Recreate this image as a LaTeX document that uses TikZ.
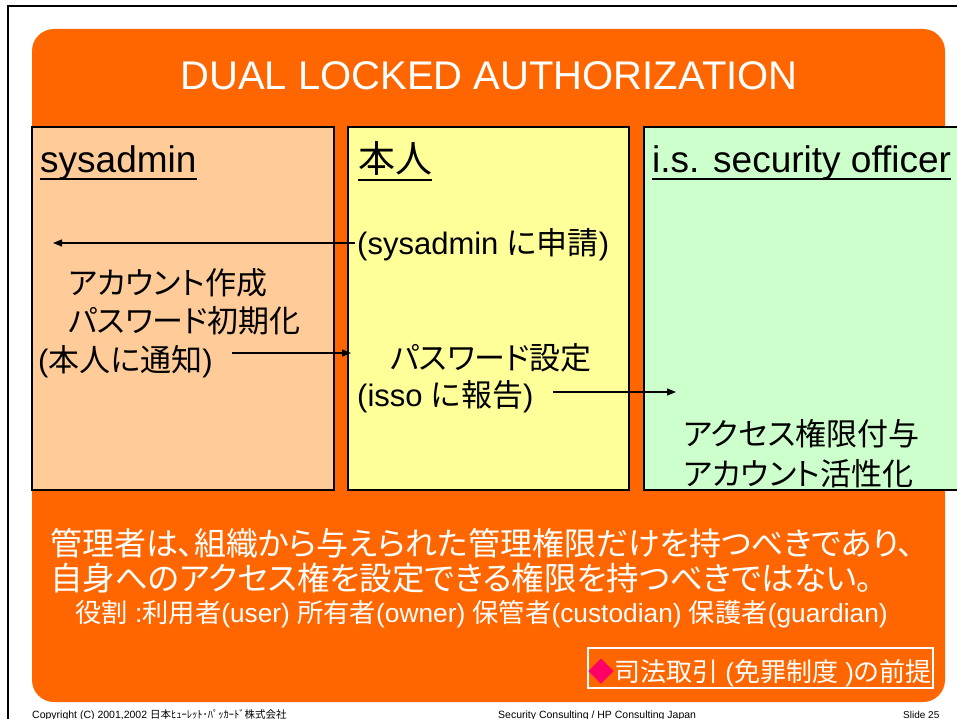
\documentclass[tikz,border=0pt]{standalone}
\usepackage{fontspec}
\setmainfont{Liberation Sans}
\newfontfamily\jp[RawFeature=+palt]{Noto Sans CJK JP}
\usetikzlibrary{arrows.meta}
\definecolor{orng}{HTML}{FF6600}
\definecolor{peach}{HTML}{FFCC99}
\definecolor{lyellow}{HTML}{FFFF99}
\definecolor{lgreen}{HTML}{CCFFCC}
\definecolor{pinkd}{HTML}{FF0066}
\newcommand\myfs[1]{\fontsize{#1}{#1}\selectfont}
\begin{document}
\begin{tikzpicture}[x=1pt,y=-1pt,
  hdr/.style={inner sep=0pt, anchor=base west, font=\myfs{37}},
  body/.style={inner sep=0pt, anchor=base west, font=\myfs{31}},
  wtxt/.style={inner sep=0pt, anchor=base west, text=white},
  foot/.style={inner sep=0pt, anchor=base west, font=\myfs{10.5}},
  colbox/.style={draw=black, line width=1.5pt},
  arr/.style={-{Triangle[length=9pt,width=7pt]}, line width=1.2pt},
  ul/.style={line width=1.5pt}
]
\clip (0,0) rectangle (957,719);
\fill[white] (0,0) rectangle (957,719);
% outer frame
\draw[line width=2pt] (8,6) rectangle (1000,800);
% orange panel
\fill[orng, rounded corners=22pt] (32,29) rectangle (945,702);
% title
\node[inner sep=0pt, anchor=base, text=white, font=\myfs{40}] (title) at (489,90) {DUAL LOCKED AUTHORIZATION};
% column boxes
\filldraw[colbox, fill=peach] (32,127) rectangle (334,490);
\filldraw[colbox, fill=lyellow] (348,127) rectangle (629,490);
\filldraw[colbox, fill=lgreen] (644,127) rectangle (990,490);
% headers
\node[hdr] (h1) at (40,173) {sysadmin};
\node[hdr] (h2) at (358,173) {\jp 本人};
\node[hdr] (h3) at (652,173) {i.s. security officer};
\draw[ul] ([yshift=-6pt]h1.base west) -- ([yshift=-6pt]h1.base east);
\draw[ul] ([yshift=-7pt]h2.base west) -- ([yshift=-7pt]h2.base east);
\draw[ul] ([yshift=-6pt]h3.base west) -- ([yshift=-6pt]h3.base east);
% body texts
\node[body] (req) at (357,254) {(sysadmin {\jp に申請})};
\node[body] (acc) at (68,294) {\jp アカウント作成};
\node[body] (pwi) at (68,332) {\jp パスワード初期化};
\node[body] (ntf) at (38,371) {({\jp 本人に通知})};
\node[body] (pws) at (390,369) {\jp パスワード設定};
\node[body] (rep) at (357,406) {(isso {\jp に報告})};
\node[body] (grt) at (683,445) {\jp アクセス権限付与};
\node[body] (act) at (683,485) {\jp アカウント活性化};
% arrows
\coordinate (a1s) at (355,243);
\coordinate (a1e) at (53,243);
\coordinate (a2s) at (232,353);
\coordinate (a2e) at (351,353);
\coordinate (a3s) at (553,392);
\coordinate (a3e) at (676,392);
\draw[arr] (a1s) -- (a1e);
\draw[arr] (a2s) -- (a2e);
\draw[arr] (a3s) -- (a3e);
% bottom white text
\node[wtxt, font=\myfs{32}\jp] (m1) at (50,555) {管理者は、組織から与えられた管理権限だけを持つべきであり、};
\node[wtxt, font=\myfs{32.5}\jp] (m2) at (50,590) {自身へのアクセス権を設定できる権限を持つべきではない。};
\node[wtxt, font=\myfs{26.3}] (m3) at (75,622) {{\jp 役割} :{\jp 利用者}(user) {\jp 所有者}(owner) {\jp 保管者}(custodian) {\jp 保護者}(guardian)};
% note box
\draw[white, line width=1.5pt] (588,648) rectangle (933,688);
\node[wtxt, font=\myfs{26}] (note) at (588,681) {{\jp\textcolor{pinkd}{◆}司法取引} ({\jp 免罪制度} ){\jp の前提}};
% footer
\node[foot] (copy) at (32,718) {Copyright (C) 2001,2002 {\jp 日本ﾋｭｰﾚｯﾄ･ﾊﾟｯｶｰﾄﾞ株式会社}};
\node[foot] (cons) at (498,718) {Security Consulting / HP Consulting Japan};
\node[foot, font=\myfs{10}] (slide) at (903,718) {Slide 25};
\end{tikzpicture}
\end{document}
